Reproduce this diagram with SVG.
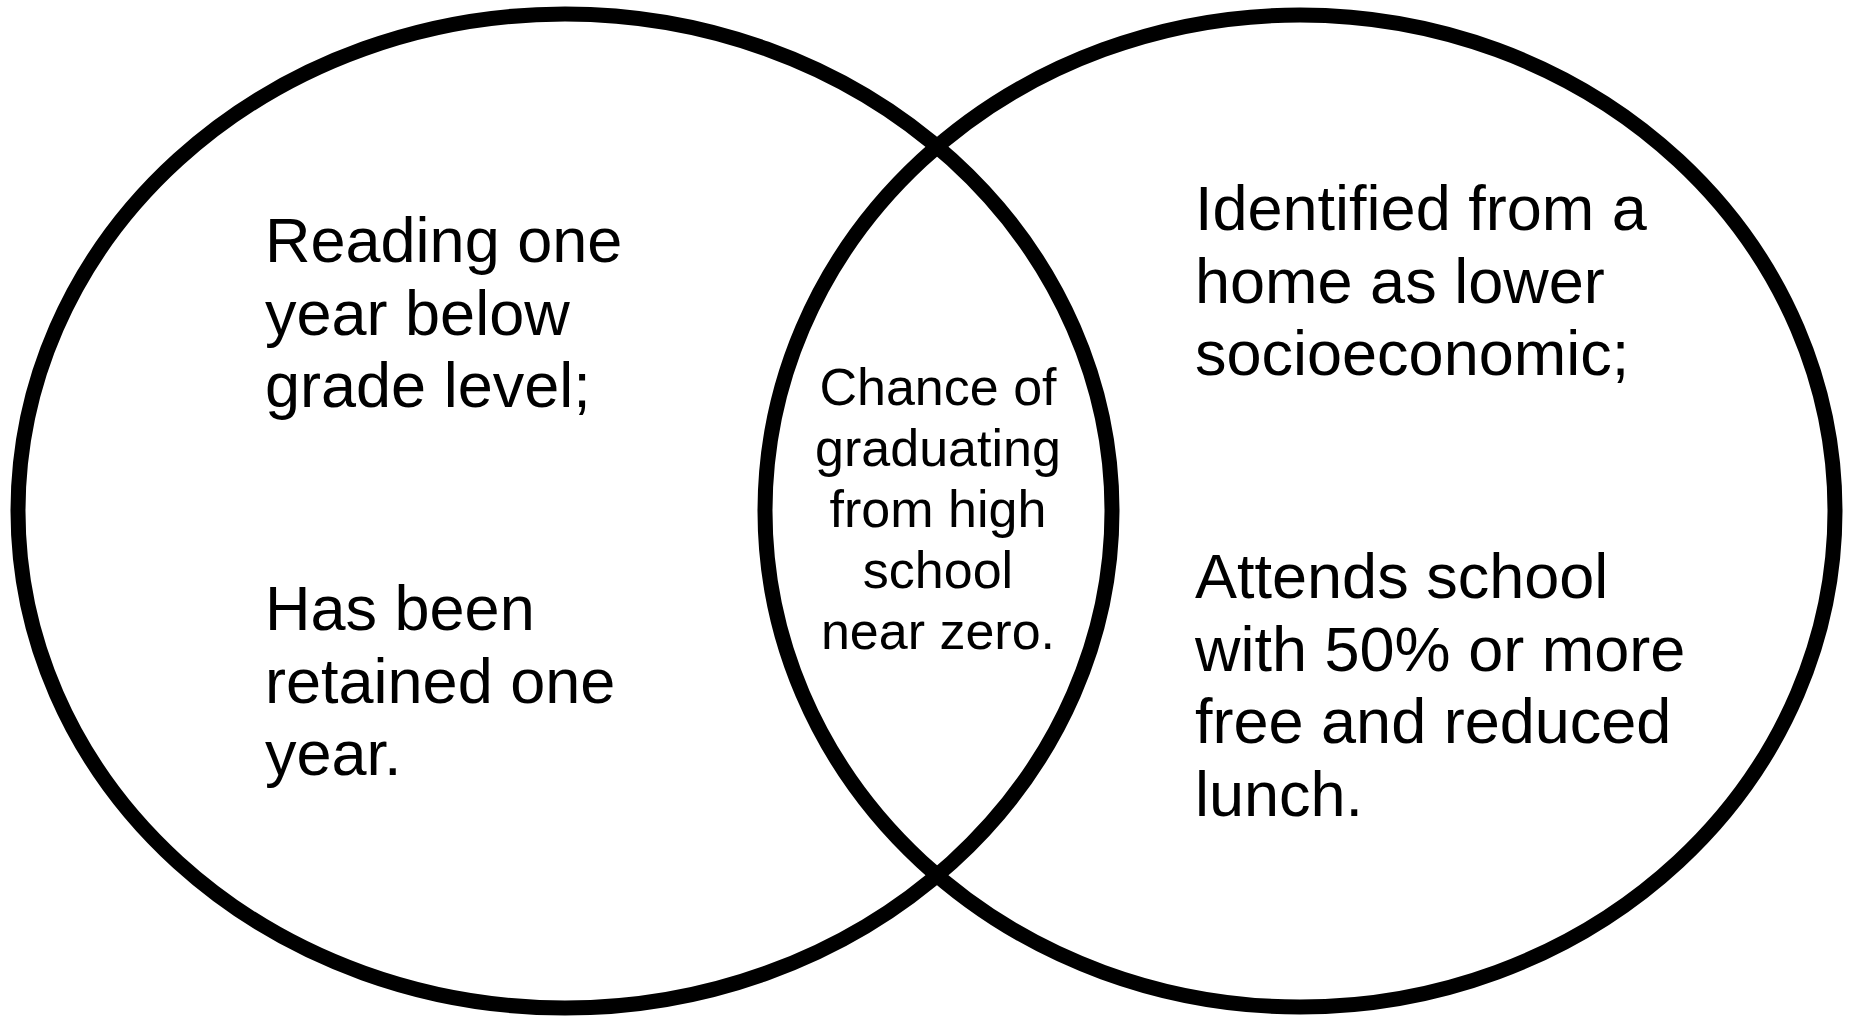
<svg xmlns="http://www.w3.org/2000/svg" width="1853" height="1016" viewBox="0 0 1853 1016">
<style>
.ring{fill:none;stroke:#000;stroke-width:15}
.t{font-family:"Liberation Sans",Arial,sans-serif;fill:#000}
.big{font-size:63px}
.mid{font-size:52px;text-anchor:middle}
</style>
<rect width="1853" height="1016" fill="#fff"/>
<g id="left-set">
<ellipse class="ring" cx="565" cy="511" rx="547" ry="497"/>
<text class="t big" x="265"><tspan x="265" y="262">Reading one</tspan><tspan x="265" y="334.5">year below</tspan><tspan x="265" y="407">grade level;</tspan></text>
<text class="t big" x="265"><tspan x="265" y="630">Has been</tspan><tspan x="265" y="702.5">retained one</tspan><tspan x="265" y="775">year.</tspan></text>
</g>
<g id="right-set">
<ellipse class="ring" cx="1300" cy="511" rx="535" ry="496"/>
<text class="t big" x="1195"><tspan x="1195" y="230">Identified from a</tspan><tspan x="1195" y="302.5">home as lower</tspan><tspan x="1195" y="375">socioeconomic;</tspan></text>
<text class="t big" x="1195"><tspan x="1195" y="598">Attends school</tspan><tspan x="1195" y="670.5">with 50% or more</tspan><tspan x="1195" y="743">free and reduced</tspan><tspan x="1195" y="815.5">lunch.</tspan></text>
</g>
<g id="overlap">
<text class="t mid"><tspan x="938" y="405">Chance of</tspan><tspan x="938" y="466">graduating</tspan><tspan x="938" y="527">from high</tspan><tspan x="938" y="588">school</tspan><tspan x="938" y="649">near zero.</tspan></text>
</g>
<g id="connectors"></g>
</svg>
